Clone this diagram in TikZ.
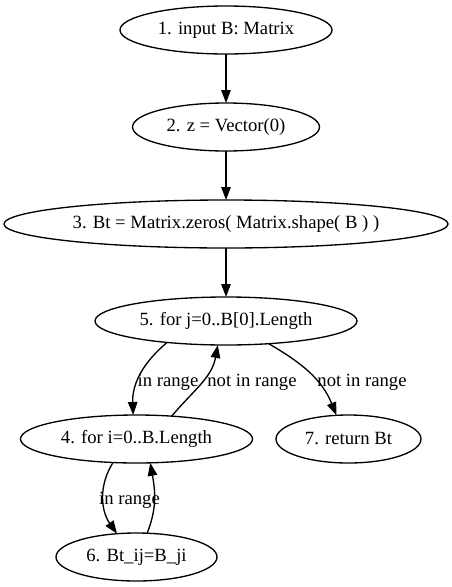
\documentclass[tikz,border=0pt]{standalone}
\usepackage{fontspec}
\setmainfont{Liberation Serif}
\usetikzlibrary{positioning, arrows.meta, shapes.geometric}

\begin{document}
\begin{tikzpicture}[x=1pt, y=-1pt,
  every node/.style={font=\fontsize{18.67}{22}\selectfont},
  state/.style={ellipse, draw, line width=1.33pt, inner sep=0pt, outer sep=0pt, minimum height=48pt},
  lbl/.style={inner sep=0pt},
  flow/.style={line width=1.33pt, -{Triangle[length=13pt,width=9.5pt]}}]
\useasboundingbox (0,0) rectangle (452,587);
\node[state, minimum width=212pt] (n1) at (226,30) {1. input B: Matrix};
\node[state, minimum width=187pt] (n2) at (226,127) {2. z = Vector(0)};
\node[state, minimum width=444pt] (n3) at (226,224) {3. Bt = Matrix.zeros( Matrix.shape( B ) )};
\node[state, minimum width=262pt] (n5) at (226,321) {5. for j=0..B[0].Length};
\node[state, minimum width=232pt] (n4) at (136.5,439) {4. for i=0..B.Length};
\node[state, minimum width=145pt] (n7) at (348.5,439) {7. return Bt};
\node[state, minimum width=161pt] (n6) at (136.5,557) {6. Bt\_ij=B\_ji};
\draw[flow] (n1) -- (n2);
\draw[flow] (n2) -- (n3);
\draw[flow] (n3) -- (n5);
\draw[flow] (n5.200) to[out=-140, in=92] (n4.98); % outer loop body
\draw[flow] (n4.33) to[out=50, in=-100] (n5.251); % inner loop done
\draw[flow] (n5.-28) to[out=-30, in=112] (n7.117); % outer loop done
\draw[flow] (n4.225) to[out=-122, in=125] (n6.130); % inner loop body
\draw[flow] (n6.66) to[out=68, in=-80] (n4.-60);
\node[lbl] (l54) at (168,382) {in range};
\node[lbl] (l45) at (252,382) {not in range};
\node[lbl] (l57) at (362,382) {not in range};
\node[lbl] (l46) at (129.5,500) {in range};
\end{tikzpicture}
\end{document}
